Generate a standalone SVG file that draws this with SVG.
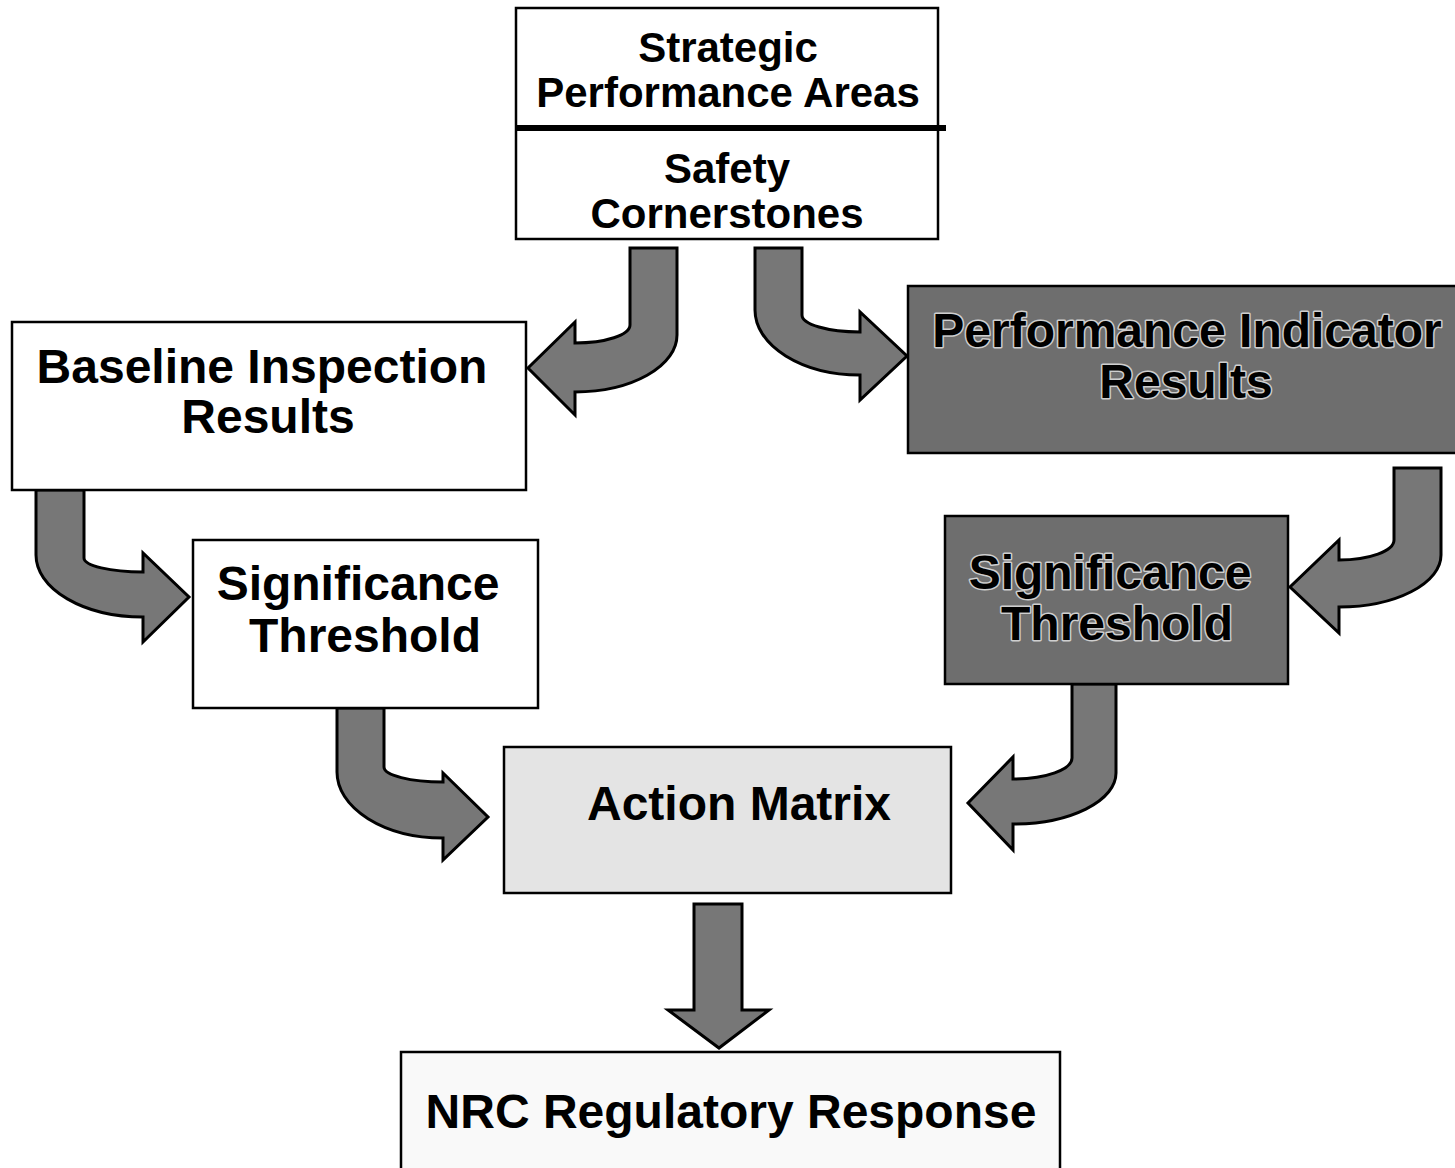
<svg xmlns="http://www.w3.org/2000/svg" width="1455" height="1168" viewBox="0 0 1455 1168">
<style>
.box{stroke:#000;stroke-width:2.5}
.w{fill:#fff}
.dk{fill:#6e6e6e}
.lt{fill:#e4e4e4}
.t{font-family:"Liberation Sans",Arial,sans-serif;font-weight:bold;text-anchor:middle;fill:#000}
.t42{font-size:42px}
.t48{font-size:48px}
.emb{stroke:#cfcfcf;stroke-width:3;paint-order:stroke;stroke-linejoin:round}
.arr{fill:#777;stroke:#000;stroke-width:3;stroke-linejoin:miter}
</style>
<rect width="1455" height="1168" fill="#fff"/>
<g id="connectors">
<path class="arr" d="M630,248 L677,248 L677,335 A102,57 0 0 1 575,392 L575,415 L528,368 L575,322 L575,343 A55,18 0 0 0 630,325 Z"/>
<path class="arr" d="M755,248 L802,248 L802,315 A58,17 0 0 0 860,332 L860,312 L907,356 L860,400 L860,375 A105,65 0 0 1 755,310 Z"/>
<path class="arr" d="M1394,468 L1441,468 L1441,555 A102,52 0 0 1 1339,607 L1339,633 L1290,587 L1339,540 L1339,560 A55,20 0 0 0 1394,540 Z"/>
<path class="arr" d="M36,490 L84,490 L84,558 A59,14 0 0 0 143,572 L143,553 L189,597 L143,642 L143,617 A107,62 0 0 1 36,555 Z"/>
<path class="arr" d="M337,708 L384,708 L384,767 A59,15 0 0 0 443,782 L443,773 L488,817 L443,860 L443,838 A106,66 0 0 1 337,772 Z"/>
<path class="arr" d="M1072,684 L1116,684 L1116,773 A103,51 0 0 1 1013,824 L1013,850 L968,803 L1013,757 L1013,779 A59,21 0 0 0 1072,758 Z"/>
<path class="arr" d="M694,904 L742,904 L742,1010 L769,1010 L719,1048 L668,1010 L694,1010 Z"/>
</g>
<g id="top">
<rect class="box w" x="516" y="8" width="422" height="231"/>
<line x1="516" y1="128" x2="946" y2="128" stroke="#000" stroke-width="6"/>
<text class="t t42" x="728" y="62">Strategic</text>
<text class="t t42" x="728" y="107">Performance Areas</text>
<text class="t t42" x="727" y="183">Safety</text>
<text class="t t42" x="727" y="228">Cornerstones</text>
</g>
<g id="baseline">
<rect class="box w" x="12" y="322" width="514" height="168"/>
<text class="t t48" x="262" y="383">Baseline Inspection</text>
<text class="t t48" x="268" y="433">Results</text>
</g>
<g id="pi">
<rect class="box dk" x="908" y="286" width="550" height="167"/>
<text class="t t48 emb" x="1187" y="347">Performance Indicator</text>
<text class="t t48 emb" x="1186" y="398">Results</text>
</g>
<g id="sig-left">
<rect class="box w" x="193" y="540" width="345" height="168"/>
<text class="t t48" x="358" y="600">Significance</text>
<text class="t t48" x="365" y="652">Threshold</text>
</g>
<g id="sig-right">
<rect class="box dk" x="945" y="516" width="343" height="168"/>
<text class="t t48 emb" x="1110" y="589">Significance</text>
<text class="t t48 emb" x="1117" y="640">Threshold</text>
</g>
<g id="action">
<rect class="box lt" x="504" y="747" width="447" height="146"/>
<text class="t t48" x="739" y="820">Action Matrix</text>
</g>
<g id="nrc">
<rect class="box" fill="#f9f9f9" x="401" y="1052" width="659" height="130"/>
<text class="t t48" x="731" y="1128">NRC Regulatory Response</text>
</g>
</svg>
